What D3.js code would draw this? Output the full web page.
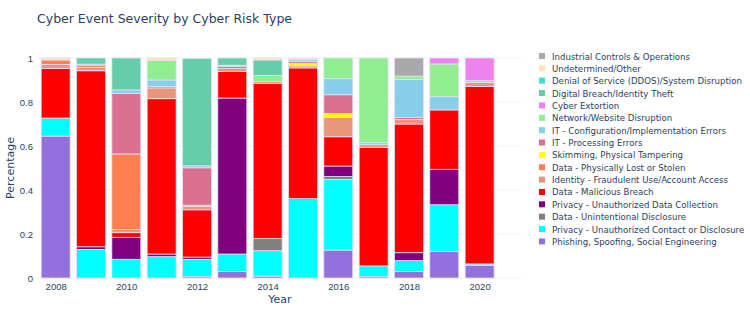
<!DOCTYPE html>
<html>
<head>
<meta charset="utf-8">
<script src="https://cdn.jsdelivr.net/npm/d3@7"></script>
<style>
  body { margin: 0; background: #fff; }
  svg { font-family: "DejaVu Sans", Verdana, sans-serif; }
</style>
</head>
<body>
<script>
const years = [2008, 2009, 2010, 2011, 2012, 2013, 2014, 2015, 2016, 2017, 2018, 2019, 2020];

// one array per risk type, stacking order bottom -> top
const phishing        = [0.645, 0, 0, 0, 0.006, 0.030, 0.009, 0, 0.127, 0.006, 0.030, 0.121, 0.058];
const privacyContact  = [0.082, 0.130, 0.085, 0.097, 0.079, 0.079, 0.115, 0.361, 0.321, 0.049, 0.049, 0.212, 0.006];
const dataUnintended  = [0, 0, 0, 0, 0, 0, 0.055, 0, 0.013, 0, 0, 0, 0];
const privacyCollect  = [0, 0.012, 0.100, 0.012, 0.010, 0.709, 0, 0, 0.048, 0, 0.036, 0.161, 0];
const dataMalicious   = [0.225, 0.800, 0.021, 0.706, 0.215, 0.121, 0.706, 0.594, 0.133, 0.539, 0.585, 0.270, 0.806];
const identityFraud   = [0.018, 0.016, 0.015, 0.049, 0.015, 0.013, 0.009, 0.009, 0.088, 0.012, 0.021, 0, 0.018];
const dataLost        = [0.021, 0.010, 0.343, 0, 0.006, 0, 0, 0, 0, 0, 0, 0, 0];
const skimming        = [0, 0, 0, 0, 0, 0, 0, 0.012, 0.018, 0, 0, 0, 0];
const itProcessing    = [0, 0, 0.275, 0.006, 0.170, 0.009, 0, 0.008, 0.085, 0, 0.009, 0, 0];
const itConfig        = [0, 0.004, 0.016, 0.030, 0.009, 0.006, 0, 0.008, 0.073, 0.009, 0.173, 0.060, 0];
const network         = [0, 0, 0, 0.088, 0, 0, 0.027, 0, 0.094, 0.385, 0.015, 0.149, 0.009];
const extortion       = [0, 0, 0, 0, 0, 0, 0, 0, 0, 0, 0, 0.027, 0.103];
const digitalBreach   = [0, 0.028, 0.145, 0, 0.488, 0.033, 0.070, 0, 0, 0, 0, 0, 0];
const ddos            = [0, 0, 0, 0, 0, 0, 0, 0, 0, 0, 0, 0, 0];
const undetermined    = [0.009, 0, 0, 0.012, 0, 0, 0.009, 0.008, 0, 0, 0, 0, 0];
const industrial      = [0, 0, 0, 0, 0, 0, 0, 0, 0, 0, 0.082, 0, 0];

const seriesNames = [
  'Phishing, Spoofing, Social Engineering',
  'Privacy - Unauthorized Contact or Disclosure',
  'Data - Unintentional Disclosure',
  'Privacy - Unauthorized Data Collection',
  'Data - Malicious Breach',
  'Identity - Fraudulent Use/Account Access',
  'Data - Physically Lost or Stolen',
  'Skimming, Physical Tampering',
  'IT - Processing Errors',
  'IT - Configuration/Implementation Errors',
  'Network/Website Disruption',
  'Cyber Extortion',
  'Digital Breach/Identity Theft',
  'Denial of Service (DDOS)/System Disruption',
  'Undetermined/Other',
  'Industrial Controls & Operations'
];
const seriesValues = [phishing, privacyContact, dataUnintended, privacyCollect, dataMalicious,
  identityFraud, dataLost, skimming, itProcessing, itConfig, network, extortion,
  digitalBreach, ddos, undetermined, industrial];
const seriesColors = ['#9370db', '#00ffff', '#808080', '#800080', '#ff0000', '#e9967a', '#ff7f50',
  '#ffff00', '#db7093', '#87ceeb', '#90ee90', '#ee82ee', '#66cdaa', '#40e0d0', '#ffe4b5', '#a9a9a9'];

const xTicks = [2008, 2010, 2012, 2014, 2016, 2018, 2020];
const yTicks = [0, 0.2, 0.4, 0.6, 0.8, 1];

const W = 750, H = 316;
const plot = {left: 38, right: 522, top: 58, bottom: 278};
const textColor = '#2a3f5f';

const svg = d3.select('body').append('svg')
  .attr('width', W)
  .attr('height', H);

const x = d3.scaleLinear().domain([2007.5, 2021.2]).range([plot.left, plot.right]);
const y = d3.scaleLinear().domain([0, 1]).range([plot.bottom, plot.top]);
const barW = (x(1) - x(0)) * 0.82;

// grid
svg.append('g')
  .attr('class', 'grid')
  .selectAll('line')
  .data(yTicks)
  .enter().append('line')
  .attr('x1', plot.left)
  .attr('x2', plot.right)
  .attr('y1', d => y(d))
  .attr('y2', d => y(d))
  .attr('stroke', '#ebf0f8')
  .attr('stroke-width', 1);

// stack data
const rows = years.map((yr, i) => {
  const r = {year: yr};
  seriesNames.forEach((n, k) => { r[n] = seriesValues[k][i]; });
  return r;
});
const stacked = d3.stack().keys(seriesNames)(rows);

const layers = svg.append('g').attr('class', 'bars')
  .selectAll('g')
  .data(stacked)
  .enter().append('g')
  .attr('fill', (d, i) => seriesColors[i]);

layers.selectAll('rect')
  .data(d => d.filter(p => p[1] - p[0] > 0))
  .enter().append('rect')
  .attr('x', d => x(d.data.year) - barW / 2)
  .attr('width', barW)
  .attr('y', d => y(d[1]))
  .attr('height', d => y(d[0]) - y(d[1]))
  .attr('stroke', '#e4e0f6')
  .attr('stroke-width', 0.8);

// axes
const xAxis = svg.append('g')
  .attr('transform', `translate(0, ${plot.bottom})`)
  .call(d3.axisBottom(x).tickValues(xTicks).tickFormat(d3.format('d')).tickSize(0).tickPadding(5));
xAxis.select('.domain').remove();
xAxis.selectAll('text').attr('fill', textColor).style('font-size', '9.5px');

const yAxis = svg.append('g')
  .attr('transform', `translate(${plot.left}, 0)`)
  .call(d3.axisLeft(y).tickValues(yTicks).tickFormat(d => d3.format('~g')(d)).tickSize(0).tickPadding(5));
yAxis.select('.domain').remove();
yAxis.selectAll('text').attr('fill', textColor).style('font-size', '9.5px');

// titles
svg.append('text')
  .attr('x', 37)
  .attr('y', 23)
  .attr('fill', textColor)
  .style('font-size', '12.5px')
  .text('Cyber Event Severity by Cyber Risk Type');

svg.append('text')
  .attr('x', (plot.left + plot.right) / 2)
  .attr('y', 303)
  .attr('text-anchor', 'middle')
  .attr('fill', textColor)
  .style('font-size', '11px')
  .text('Year');

svg.append('text')
  .attr('transform', `translate(14, ${(plot.top + plot.bottom) / 2}) rotate(-90)`)
  .attr('text-anchor', 'middle')
  .attr('fill', textColor)
  .style('font-size', '11px')
  .text('Percentage');

// legend (reverse of stack order)
const legendItems = seriesNames.map((n, i) => ({name: n, color: seriesColors[i]})).reverse();
const legend = svg.append('g')
  .attr('transform', 'translate(539, 56)');
const item = legend.selectAll('g')
  .data(legendItems)
  .enter().append('g')
  .attr('transform', (d, i) => `translate(0, ${i * 12.36})`);
item.append('rect')
  .attr('x', 0)
  .attr('y', -3)
  .attr('width', 6)
  .attr('height', 6)
  .attr('fill', d => d.color);
item.append('text')
  .attr('x', 13)
  .attr('y', 3.5)
  .attr('fill', textColor)
  .style('font-size', '8.6px')
  .text(d => d.name);
</script>
</body>
</html>
